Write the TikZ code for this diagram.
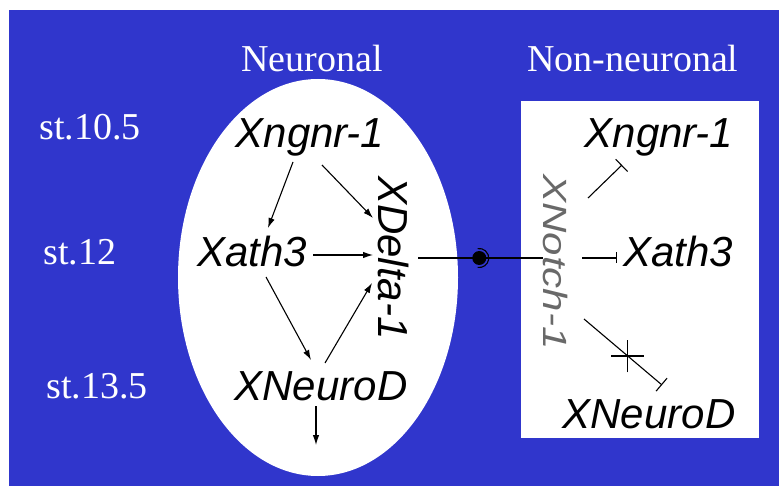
\documentclass[tikz,border=0pt]{standalone}
\usepackage{fontspec}
\setmainfont{Liberation Serif}
\setsansfont{Liberation Sans}
\usetikzlibrary{arrows.meta}
\usetikzlibrary{shapes.misc}
\definecolor{fondo}{RGB}{48,54,204}
\definecolor{grisnotch}{RGB}{105,105,105}

\begin{document}
\begin{tikzpicture}[x=1pt,y=-1pt,
    gen/.style={font=\sffamily\itshape\fontsize{42}{48}\selectfont, inner sep=0pt, anchor=base},
    etapa/.style={font=\fontsize{38}{44}\selectfont, text=white, inner sep=0pt, anchor=base},
    act/.style={-{Latex[length=10pt,width=6.5pt]}, line width=1.1pt},
    inh/.style={line width=1.1pt},
    union/.style={circle, fill=black, inner sep=0pt, minimum size=14pt},
    marca/.style={cross out, draw, line width=1.1pt, inner sep=0pt, minimum size=22pt, rotate=45}]
    \useasboundingbox (0,0) rectangle (779,486);

    % Fondo
    \fill[fondo] (9,10) rectangle (779,486);
    \fill[white] (318,277.5) ellipse (140 and 198.5);
    \fill[white] (521,101) rectangle (759,438);

    % Etiquetas
    \node[etapa] (neuronal) at (312,72) {Neuronal};
    \node[etapa] (noneuronal) at (633,72) {Non-neuronal};
    \node[etapa] (st105) at (90,140) {st.10.5};
    \node[etapa] (st12) at (80,265) {st.12};
    \node[etapa] (st135) at (97,398) {st.13.5};

    % Genes neuronales
    \node[gen] (ngnr) at (310,148) {Xngnr-1};
    \node[gen] (ath) at (252,267) {Xath3};
    \node[gen] (neurod) at (321,400) {XNeuroD};
    \node[gen, anchor=center, rotate=-90] (delta) at (394,258) {XDelta-1};
    \coordinate (salida) at (316,445);

    % Genes no neuronales
    \node[gen] (ngnrb) at (659,148) {Xngnr-1};
    \node[gen] (athb) at (678,267) {Xath3};
    \node[gen] (neurodb) at (649,428) {XNeuroD};
    \node[gen, anchor=center, rotate=-90, yscale=0.8, text=grisnotch] (notch) at (556,262) {XNotch-1};

    % Conexiones
    \draw[act] ([shift={(-17,14)}]ngnr.base) -- ([shift={(16,-39)}]ath.base);
    \draw[act] ([shift={(12,17)}]ngnr.base) -- ([shift={(-21,-40)}]delta.center);
    \draw[act] ([shift={(61,-12)}]ath.base) -- ([shift={(-21,-3)}]delta.center);
    \draw[act] ([shift={(14,10)}]ath.base) -- ([shift={(-10,-40)}]neurod.base);
    \draw[act] ([shift={(4,-37)}]neurod.base) -- ([shift={(-22,25)}]delta.center);
    \draw[act] ([shift={(-5,6)}]neurod.base) -- (salida);

    \draw[inh] ([shift={(24,0)}]delta.center) -- node[union, pos=0.49] (junta) {} ([shift={(-13,-4)}]notch.center);
    \draw[inh] (junta.center) ++(100:9.5) arc[start angle=100, end angle=-100, radius=9.5];

    \draw[inh, -{Bar[width=17pt]}] ([shift={(32,-64)}]notch.center) -- ([shift={(-37,17)}]ngnrb.base);
    \draw[inh, -{Bar[width=11pt]}] ([shift={(26,-4)}]notch.center) -- ([shift={(-61,-9)}]athb.base);
    \draw[inh, -{Bar[width=17pt]}] ([shift={(28,57)}]notch.center) -- node[marca, pos=0.56] (corte) {} ([shift={(13,-43)}]neurodb.base);
\end{tikzpicture}
\end{document}
